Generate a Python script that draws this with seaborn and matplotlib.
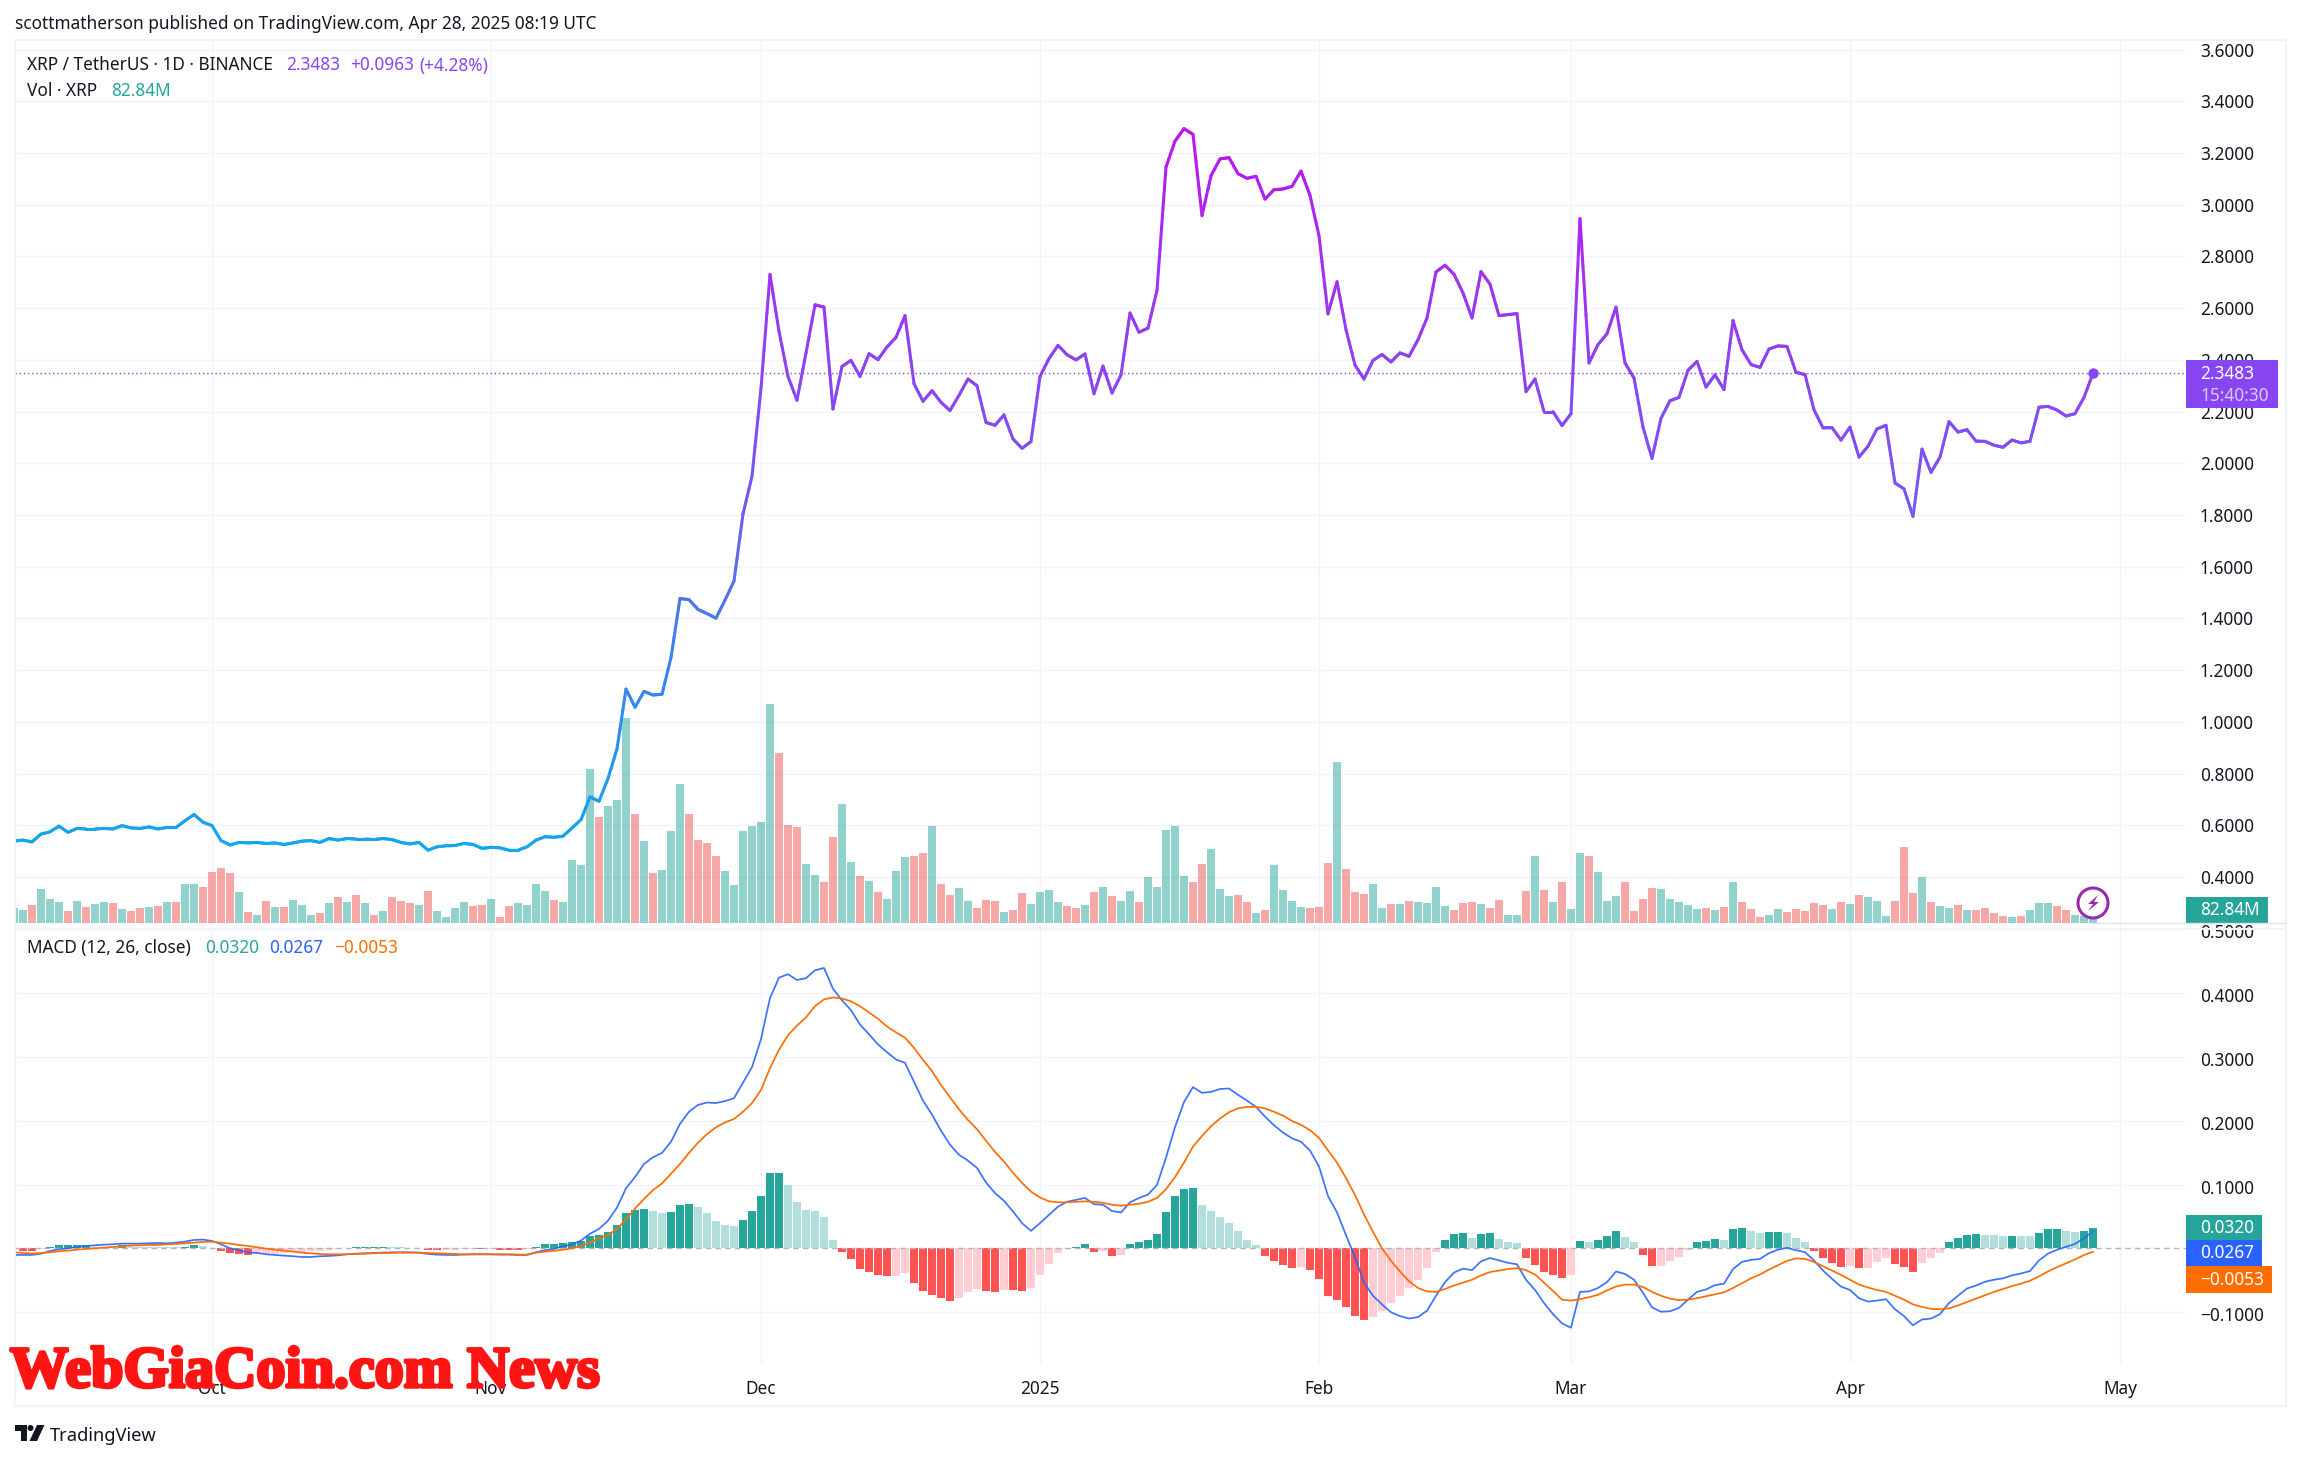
import numpy as np
import pandas as pd
import matplotlib
matplotlib.use('Agg')
import matplotlib.pyplot as plt
import matplotlib.dates as mdates
import matplotlib.patheffects as pe
import matplotlib.transforms as mtransforms
from matplotlib.collections import LineCollection
from matplotlib.patches import Circle, Polygon, Rectangle
import seaborn as sns

start_date = "2024-09-09"

# daily close, XRP/USDT
close = [
    .539, .543, .536, .566, .575, .597, .573, .588, .586, .586,
    .588, .586, .599, .590, .588, .594, .586, .592, .592, .618,
    .642, .612, .599, .541, .524, .534, .532, .534, .530, .532,
    .526, .532, .539, .541, .534, .549, .543, .549, .547, .547,
    .545, .549, .545, .534, .528, .534, .504, .517, .521, .522,
    .530, .526, .511, .515, .513, .504, .504, .517, .543, .556,
    .554, .558, .590, .622, .710, .693, .781, .896, 1.127, 1.057,
    1.118, 1.104, 1.107, 1.249, 1.477, 1.473, 1.435, 1.419, 1.401, 1.471,
    1.545, 1.804, 1.950, 2.290, 2.730, 2.510, 2.336, 2.244, 2.427, 2.613,
    2.604, 2.210, 2.375, 2.398, 2.336, 2.424, 2.401, 2.450, 2.487, 2.571,
    2.308, 2.240, 2.281, 2.236, 2.204, 2.263, 2.326, 2.300, 2.158, 2.147,
    2.187, 2.094, 2.058, 2.084, 2.336, 2.405, 2.456, 2.420, 2.400, 2.423,
    2.269, 2.376, 2.272, 2.342, 2.581, 2.507, 2.523, 2.669, 3.146, 3.246,
    3.294, 3.272, 2.958, 3.112, 3.177, 3.182, 3.120, 3.102, 3.110, 3.022,
    3.058, 3.061, 3.071, 3.130, 3.036, 2.880, 2.578, 2.702, 2.517, 2.380,
    2.326, 2.398, 2.421, 2.392, 2.427, 2.414, 2.478, 2.562, 2.740, 2.766,
    2.731, 2.659, 2.562, 2.741, 2.693, 2.571, 2.575, 2.579, 2.277, 2.326,
    2.200, 2.200, 2.146, 2.192, 2.946, 2.388, 2.459, 2.501, 2.604, 2.388,
    2.330, 2.140, 2.019, 2.174, 2.242, 2.255, 2.360, 2.394, 2.295, 2.342,
    2.285, 2.552, 2.439, 2.382, 2.371, 2.442, 2.454, 2.452, 2.352, 2.343,
    2.207, 2.137, 2.138, 2.090, 2.140, 2.024, 2.066, 2.133, 2.147, 1.924,
    1.901, 1.795, 2.055, 1.965, 2.024, 2.161, 2.121, 2.130, 2.086, 2.085,
    2.070, 2.062, 2.090, 2.079, 2.085, 2.217, 2.220, 2.206, 2.183, 2.192,
    2.255, 2.3483,
]

# volume in millions of XRP
volume = [
    320, 270, 370, 700, 510, 430, 250, 470, 330, 390,
    430, 410, 290, 250, 310, 330, 350, 430, 430, 820,
    820, 740, 1050, 1150, 1030, 640, 230, 180, 470, 330,
    330, 490, 370, 180, 210, 410, 540, 430, 580, 410,
    180, 250, 540, 470, 410, 370, 660, 250, 140, 310,
    430, 350, 370, 510, 140, 350, 410, 370, 820, 660,
    490, 430, 1300, 1200, 3180, 2190, 2420, 2540, 4250, 2250,
    1700, 1030, 1110, 1900, 2870, 2250, 1720, 1650, 1400, 1090,
    800, 1900, 2020, 2100, 4540, 3510, 2040, 1980,
    1220, 990, 850, 1790, 2470, 1260, 970, 870, 640, 510,
    1090, 1360, 1380, 1460, 2000, 820, 580, 720, 470, 310,
    490, 470, 230, 270, 620, 390, 640, 680, 450, 350,
    310, 370, 640, 740, 560, 470, 660, 430, 950, 740,
    1920, 2000, 970, 850, 1220, 1530, 700, 560, 580, 450,
    210, 270, 1200, 680, 470, 330, 310, 330, 1240, 3340,
    1130, 640, 600, 820, 310, 390, 390, 470, 430, 410,
    760, 350, 270, 410, 430, 390, 310, 490,
    180, 180, 660, 1380, 680, 430, 850, 290, 1460, 1400,
    1050, 470, 560, 850, 250, 510, 720, 700, 510, 450,
    370, 290, 310, 270, 330, 850, 430, 290, 140, 180,
    290, 230, 290, 250, 410, 370, 290, 430, 390, 580,
    540, 470, 160, 470, 1570, 620, 950, 430, 350, 310,
    370, 270, 270, 310, 210, 160, 120, 160, 270, 410,
    410, 350, 270, 180, 160, 82.84,
]

volume_dir = list(
    "ggrgggrgrg" "grgrrgrgrg" "grrrrgrgrg" "rgggrgrgrg" "rgrrrgrggg"
    "grrgrrgggg" "rggggrgggr" "grgggrrrrg" "gggggrrr"
    "ggrrggrgrg" "ggrrgrrggr" "rrgrrggggr" "rgrgrggrgg" "gggrrgggrr"
    "grggggrrrg" "rrrggrgrgg" "ggrrrgrr"
    "ggrgrgrggr" "gggrrrrggg" "ggrgrgrrrg" "grrrrrgrgr" "gggrrrgrgg"
    "rgrrrrgrgg" "grrggg"
)

# MACD values in thousandths
macd_line = [
    -10.4, -10.4, -10.4, -8.4, -4.2, -1.6, 0, 2.1, 3.7, 4.7,
    5.7, 6.3, 7.3, 7.3, 7.3, 7.8, 8.4, 7.8, 8.9, 10.4,
    13.1, 13.6, 11.5, 6.3, 0, -3.1, -6.3, -7.3, -9.4, -10.4,
    -11.5, -12.5, -13.6, -13.6, -12.5, -12, -11, -9.4, -8.4, -7.8,
    -7.3, -6.8, -6.3, -6.3, -6.3, -6.8, -8.9, -9.9, -10.4, -10.4,
    -9.9, -9.4, -9.4, -9.4, -9.9, -9.9, -10.4, -10.4,
    -6.1, -3.0, -.8, 3.0, 6.1, 12.1, 22.8, 30.4, 43.3, 63.8,
    94.1, 111.6, 132.1, 142.7, 149.5, 167, 195.1, 214, 224.7, 228.5,
    227.7, 230.7, 235.3, 259.6, 283.9, 327.9, 392.4, 424.3, 429.6, 420.5,
    423.5, 435.7, 439.5, 406.8, 388.6, 373.4, 350.7, 335.5, 319.5, 307.4,
    296, 290.7, 261.1, 231.5, 209.5, 184.4, 162.4, 146.5, 137.4, 126,
    103.2, 86.5, 74.4, 57.7, 39.5, 27.3, 39.5, 52.4, 65.3, 72.9,
    75.9, 78.9, 69.1, 68.3, 58.4, 56.2, 72.1, 78.9, 84.2, 99.4,
    141.9, 189.8, 229.2, 252.7, 243.6, 245.2, 249.7, 250.5, 240.6, 231.5,
    221.6, 206.4, 192.8, 181.4, 172.3, 167, 153.3, 128.3, 82, 56.2,
    20.5, -13.7, -53.9, -74.4, -88, -100.2, -106.3, -110.1, -107.8, -97.9,
    -74.4, -53.1, -38, -31.9, -34.2, -20.5, -15.2, -19,
    -22.8, -25, -49.3, -65.3, -85.8, -103.2, -117.6, -124.5, -68.3, -67.6,
    -62.2, -53.1, -36.4, -40.2, -49.3, -69.8, -92.6, -99.4, -98.7, -93.4,
    -80.5, -68.3, -64.5, -57.7, -55.4, -32.6, -21.3, -18.2, -16.7, -7.6,
    -2.3, .8, -3, -6.1, -19, -34.9, -47.8, -60, -65.3, -78.2,
    -83.5, -82, -79.7, -95.6, -106.3, -120.7, -111.6, -110.1, -103.2, -85.8,
    -74.4, -63, -58.4, -52.4, -49.3, -47.1, -42.5, -39.5, -35.7, -19,
    -8.3, -2.3, 2.3, 6.8, 15.9, 26.7,
]

signal_line = [
    -6.3, -7.3, -8.4, -7.3, -6.3, -4.7, -3.7, -2.1, -1, 0,
    1, 2.1, 3.1, 4.2, 4.7, 5.2, 5.2, 6.3, 6.8, 7.8,
    8.9, 9.9, 10.4, 8.9, 7.3, 5.2, 3.7, 1.6, -.5, -2.1,
    -3.7, -5.2, -6.8, -7.8, -8.9, -9.4, -9.4, -9.4, -8.9, -8.4,
    -7.8, -7.3, -7.3, -6.8, -6.8, -6.8, -7.3, -7.8, -8.4, -8.9,
    -9.4, -9.4, -9.4, -9.4, -9.4, -9.4, -9.9, -9.9,
    -6.8, -5.3, -3.8, -2.3, 0, 3.8, 9.1, 15.2, 21.3, 30.4,
    45.5, 62.2, 77.4, 91.1, 101.7, 116.9, 132.1, 149.5, 165.5, 179.1,
    189.8, 197.3, 202.7, 214, 227.7, 248.2, 282.3, 311.2, 334, 349.1,
    362, 379.5, 390.1, 393.2, 391.6, 387.1, 379.5, 369.6, 359.8, 347.6,
    338.5, 330.2, 314.2, 295.3, 277.8, 255.8, 236.8, 217.8, 201.1, 186.7,
    168.5, 151, 135.9, 118.4, 102.5, 88.8, 79.7, 73.6, 72.1, 72.1,
    72.9, 73.6, 72.9, 71.3, 68.3, 66.8, 68.3, 69.8, 72.9, 78.9,
    92.6, 111.6, 134.3, 159.4, 176.1, 191.3, 203.4, 213.3, 219.4, 221.6,
    221.6, 219.4, 214, 208, 199.6, 193.5, 185.2, 173.1, 153.3, 134.3,
    110.1, 83.5, 53.1, 25.8, 0, -19.7, -36.4, -51.6, -62.2, -67.6,
    -68.3, -63.8, -58.4, -53.9, -49.3, -42.5, -37.2, -34.9,
    -32.6, -31.1, -34.2, -41, -53.9, -66.8, -80.5, -82, -79.7, -76.7,
    -72.9, -66, -60, -56.9, -56.9, -60.7, -68.3, -74.4, -78.9, -81.2,
    -80.5, -78.2, -75.1, -72.1, -69.1, -62.2, -54.6, -47.1, -41, -33.4,
    -26.6, -19.7, -15.9, -16.7, -21.3, -28.1, -34.9, -41.7, -49.3, -56.9,
    -61.5, -65.3, -68.3, -74.4, -80.5, -88, -91.8, -94.9, -95.6, -94.1,
    -89.6, -84.2, -78.9, -73.6, -68.3, -63.8, -59.2, -55.4, -50.9, -44,
    -36.4, -29.6, -23.5, -17.5, -10.6, -5.3,
]

hist_vals = [
    -1.6, -4.2, -4.2, -.5, 2.1, 4.6, 4.7, 4.8, 4.9, 2.6,
    2.1, 2.1, 5.2, 2.1, 2.1, 2.1, 1.6, 1.6, 1.6, 2.1,
    5.2, 3.1, 1.0, -4.2, -7.3, -8.9, -10.4, -9.6, -9.2, -8.8,
    -7.3, -6.3, -5.2, -4.7, -4.2, -2.6, -1.0, 1.0, 1.8, 1.9,
    2.0, 2.1, 2.0, 1.6, .5, .4, -2.6, -2.6, -2.4, -2.1,
    -1.0, -.9, -1.6, -1.0, -2.6, -2.6, -2.6, -1.0,
    2.3, 6.1, 6.2, 7.6, 9.1, 12.1, 19, 21.3, 25.8, 37.2,
    54.6, 60, 62.2, 59.2, 55.4, 56.2, 68.3, 69.8, 65.3, 54.6,
    43.3, 37.2, 34.2, 44.8, 57.7, 82.7, 118.4, 118.8, 99.4, 72.9,
    60.7, 59.2, 49.3, 13.7, -5.3, -17.5, -31.9, -36.4, -42.5, -44,
    -43.6, -39.5, -53.9, -67.6, -72.9, -77.4, -82, -77.4, -69.1, -64.5,
    -67.6, -69.1, -66, -66, -67.6, -63, -42.5, -24.3, -7.6, -.8,
    2.3, 6.1, -5.3, -5.0, -11.4, -11.0, 6.8, 10.6, 12.9, 22,
    56.2, 81.2, 92.6, 94.9, 68.3, 57.7, 49.3, 40.2, 27.3, 13.7,
    4.6, -11.4, -20.5, -25.8, -30.4, -28.8, -33.4, -47.8, -74.4, -80.5,
    -92.6, -105.5, -113.1, -107, -97.9, -86.5, -74.4, -63, -49.3, -30.4,
    -5.3, 13.7, 22.8, 23.2, 16.7, 22.8, 24.3, 15.2,
    10.6, 7.6, -15.9, -25.8, -37.2, -42.5, -46.3, -42.5, 12.1, 10.6,
    13.7, 19, 27.3, 18.2, 9.1, -9.9, -27.3, -27.0, -19.7, -12.9,
    -2.3, 9.9, 12.1, 15.2, 13.7, 29.6, 31.1, 27.3, 24.3, 25.8,
    26.2, 24.3, 16.7, 10.6, -3.8, -15.9, -22.8, -28.8, -27.3, -31.1,
    -30.4, -22, -15.9, -24.3, -28.8, -36.4, -22.8, -15.9, -7.6, 9.1,
    16.7, 21.3, 22.8, 21.3, 20.5, 18.5, 19.4, 19.2, 19.0, 24.3,
    29.6, 29.9, 27.3, 25.8, 27.3, 32.0,
]

price_ticks = [.4, .6, .8, 1.0, 1.2, 1.4, 1.6, 1.8, 2.0, 2.2, 2.4, 2.6, 2.8, 3.0, 3.2, 3.4, 3.6]
macd_ticks = [-.1, .1, .2, .3, .4, .5]
month_ticks = ["2024-10-01", "2024-11-01", "2024-12-01", "2025-01-01",
               "2025-02-01", "2025-03-01", "2025-04-01", "2025-05-01"]
month_labels = ["Oct", "Nov", "Dec", "2025", "Feb", "Mar", "Apr", "May"]

n = len(close)
for name, s in [("volume", volume), ("dir", volume_dir), ("macd", macd_line),
                ("signal", signal_line), ("hist", hist_vals)]:
    assert len(s) == n, f"{name} {len(s)} vs {n}"

df = pd.DataFrame({
    "x": mdates.date2num(pd.date_range(start_date, periods=n)),
    "close": close,
    "volume": volume,
    "dir": volume_dir,
    "macd": np.array(macd_line) / 1000,
    "signal": np.array(signal_line) / 1000,
    "hist": np.array(hist_vals) / 1000,
})
rising = df["hist"].diff().fillna(1) > 0
df["hist_kind"] = np.select(
    [(df["hist"] >= 0) & rising, df["hist"] >= 0, rising],
    ["up_strong", "up_weak", "down_weak"], "down_strong")

W, H = 2301, 1460
sns.set_theme(style="white")
plt.rcParams['font.family'] = ['Noto Sans', 'DejaVu Sans']
plt.rcParams['axes.unicode_minus'] = True
TXT = "#131722"
GRID = "#f0f3fa"
TEAL = "#26a69a"
PURPLE = "#8746f2"
BLUE = "#2962ff"
ORANGE = "#ff6d00"
FS = 12.4

fig = plt.figure(figsize=(W / 100, H / 100), dpi=100, facecolor="white")


def px_axes(x0, y0, x1, y1):
    return fig.add_axes([x0 / W, 1 - y1 / H, (x1 - x0) / W, (y1 - y0) / H])


oct1 = mdates.date2num(pd.Timestamp("2024-10-01"))
xlim = (oct1 + (15 - 212) / 9, oct1 + (2186 - 212) / 9)
tick_pos = mdates.date2num(pd.to_datetime(month_ticks))

# price pane: grid and price scale at the back, volume, then the line on top
ax_price = px_axes(15, 40, 2186, 929)
ax_vol = ax_price.twinx()
ax_line = ax_price.twinx()
ax_macd = px_axes(15, 929, 2186, 1363)

sns.barplot(data=df, x="x", y="volume", hue="dir", palette={"g": TEAL, "r": "#ef5350"},
            native_scale=True, dodge=False, width=0.88, alpha=0.5, errorbar=None,
            saturation=1, linewidth=0, legend=False, ax=ax_vol)
ax_vol.set_ylim(-118, 18249)
ax_vol.set_xlim(xlim)
ax_vol.set_yticks([])
ax_vol.set(xlabel="", ylabel="")

grad = sns.blend_palette(["#12a8ec", "#2f8df0", "#4a78ec", "#7a55f5", "#8a45f2", "#a52ef0", "#bd14f0"],
                         as_cmap=True)
sns.lineplot(data=df, x="x", y="close", color=PURPLE, lw=0.8, ax=ax_line, legend=False)
px = np.concatenate([np.linspace(a, b, 6, endpoint=False) for a, b in zip(df["x"][:-1], df["x"][1:])])
py = np.concatenate([np.linspace(a, b, 6, endpoint=False) for a, b in zip(df["close"][:-1], df["close"][1:])])
pts = np.column_stack([px, py]).reshape(-1, 1, 2)
segs = np.concatenate([pts[:-1], pts[1:]], axis=1)
lc = LineCollection(segs, cmap=grad, norm=plt.Normalize(0.5, 3.25), linewidth=2.2, capstyle="round", zorder=3)
lc.set_array(py[:-1])
ax_line.add_collection(lc)
ax_line.axhline(close[-1], color=PURPLE, lw=1, ls=(0, (1, 2)), zorder=2)
ax_line.scatter(df["x"].iloc[-1], close[-1], s=42, color=PURPLE, zorder=4)
ax_line.set_ylim(0.1992, 3.637)
ax_line.set_xlim(xlim)
ax_line.set_yticks([])
ax_line.set(xlabel="", ylabel="")

ax_price.set_ylim(0.1992, 3.637)
ax_price.set_xlim(xlim)
ax_price.set_yticks(price_ticks)
ax_price.set_yticklabels([f"{t:.4f}" for t in price_ticks])
ax_price.set_xticks(tick_pos)
ax_price.tick_params(axis="x", length=0, labelbottom=False)
ax_price.yaxis.tick_right()
ax_price.tick_params(axis="y", length=0, pad=10, labelsize=FS, labelcolor=TXT)
ax_price.grid(True, color=GRID, lw=1)

# macd pane
sns.barplot(data=df, x="x", y="hist", hue="hist_kind",
            palette={"up_strong": TEAL, "up_weak": "#b2dfdb", "down_strong": "#ff5252", "down_weak": "#ffcdd2"},
            native_scale=True, dodge=False, width=0.88, errorbar=None, saturation=1, linewidth=0,
            legend=False, ax=ax_macd)
ax_macd.axhline(0, color="#b2b5be", lw=1, ls=(0, (4, 3)), zorder=3)
sns.lineplot(data=df, x="x", y="macd", color=BLUE, lw=1.25, ax=ax_macd, legend=False, alpha=0.9, zorder=4)
sns.lineplot(data=df, x="x", y="signal", color=ORANGE, lw=1.25, ax=ax_macd, legend=False, zorder=5)
ax_macd.set_ylim(-.1798, .5005)
ax_macd.set_xlim(xlim)
ax_macd.set(xlabel="", ylabel="")
ax_macd.set_yticks(macd_ticks)
ax_macd.set_yticklabels([f"{t:.4f}".replace("-", "\u2212") for t in macd_ticks])
ax_macd.yaxis.tick_right()
ax_macd.tick_params(axis="y", length=0, pad=10, labelsize=FS, labelcolor=TXT)
ax_macd.set_xticks(tick_pos)
ax_macd.set_xticklabels(month_labels)
ax_macd.tick_params(axis="x", length=0, pad=12, labelsize=FS, labelcolor=TXT)
ax_macd.get_xticklabels()[3].set_fontweight("bold")
ax_macd.grid(True, color=GRID, lw=1)
ax_macd.set_axisbelow(True)
nudge = mtransforms.ScaledTranslation(0, -2 / 100, fig.dpi_scale_trans)
for t in ax_macd.get_yticklabels():
    t.set_transform(t.get_transform() + nudge)

for ax in (ax_price, ax_vol, ax_line, ax_macd):
    sns.despine(ax=ax, left=True, right=True, top=True, bottom=True)

# overlay in pixel coordinates for the chrome around the panes
ov = fig.add_axes([0, 0, 1, 1], zorder=10)
ov.set_xlim(0, W)
ov.set_ylim(H, 0)
ov.axis("off")
ov.add_patch(Rectangle((15, 40), 2271, 1366, fill=False, ec="#f0f3fa", lw=1.5))
ov.plot([15, 2286], [929, 929], color="#f0f3fa", lw=1.5)
ov.plot([2092, 2286], [923.3, 923.3], color="#e0e3eb", lw=1)


def label(x, y, s, color=TXT, size=FS, **kw):
    ov.text(x, y, s, color=color, fontsize=size, va="center", ha="left", **kw)


label(15, 24, "scottmatherson published on TradingView.com, Apr 28, 2025 08:19 UTC")
label(27, 65.5, "XRP / TetherUS \u00b7 1D \u00b7 BINANCE")
label(286, 65.5, "2.3483", PURPLE)
label(350, 65.5, "+0.0963", PURPLE)
label(419, 65.5, "(+4.28%)", PURPLE)
label(27, 91.5, "Vol \u00b7 XRP")
label(111, 91.5, "82.84M", TEAL)
label(27, 948, "MACD (12, 26, close)")
label(205, 948, "0.0320", TEAL)
label(269, 948, "0.0267", BLUE)
label(334, 948, "\u22120.0053", ORANGE)


def box(x1, y0, y1, color):
    ov.add_patch(Rectangle((2186, y0), x1 - 2186, y1 - y0, color=color, lw=0))


box(2278, 360, 408, PURPLE)
label(2200, 374, "2.3483", "white", fontweight="medium")
label(2200, 396, "15:40:30", "#dcc8fb")
box(2268, 897, 923, TEAL)
label(2200, 910, "82.84M", "white")
box(2262, 1215, 1240, TEAL)
label(2200, 1228, "0.0320", "white")
box(2262, 1240, 1266, BLUE)
label(2200, 1253, "0.0267", "white")
box(2272, 1266, 1293, ORANGE)
label(2200, 1280, "\u22120.0053", "white")

# bolt marker on the last volume bar
ov.add_patch(Circle((2093, 903), 15, fill=False, ec="#9c27b0", lw=2.2))
ov.add_patch(Polygon([(2098, 895), (2088, 904), (2093, 904), (2088, 911), (2099, 902), (2094, 902)],
                     color="#9c27b0", lw=0))

# tradingview logo
ov.add_patch(Polygon([(15, 1425), (27, 1425), (27, 1441), (21, 1441), (21, 1431), (15, 1431)], color=TXT, lw=0))
ov.add_patch(Circle((30.5, 1428), 3, color=TXT, lw=0))
ov.add_patch(Polygon([(37, 1425), (44.5, 1425), (37, 1441), (29.5, 1441)], color=TXT, lw=0))
label(50, 1436, "TradingView", size=13.2)

ov.text(10, 1373, "WebGiaCoin.com News", color="#ff1414", fontsize=42, family="Liberation Serif",
        fontweight="bold", va="center", ha="left",
        path_effects=[pe.withStroke(linewidth=2.5, foreground="#ff1414")])

plt.savefig("out.png", dpi=100)
